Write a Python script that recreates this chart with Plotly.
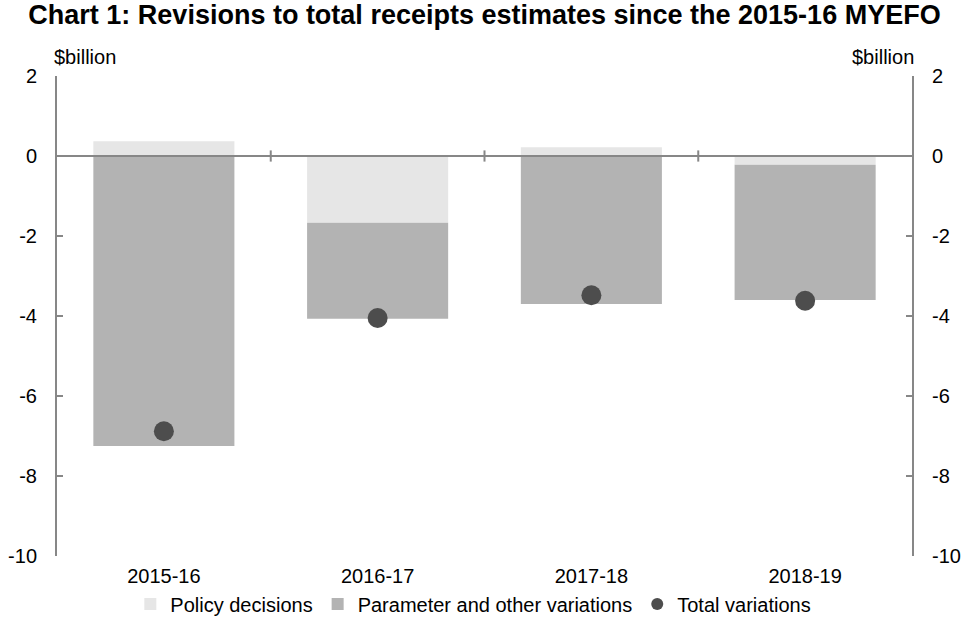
import plotly.graph_objects as go

categories = ["2015-16", "2016-17", "2017-18", "2018-19"]
policy = [0.37, -1.67, 0.22, -0.22]
parameter = [-7.25, -2.40, -3.70, -3.38]
total = [-6.88, -4.05, -3.48, -3.62]
y_ticks = [2, 0, -2, -4, -6, -8, -10]
y_tick_text = ["2", "0", "-2", "-4", "-6", "-8", "-10"]

FONT = "Liberation Sans, Arial, sans-serif"
AX = "#878787"
FS = 20

fig = go.Figure()
fig.add_trace(go.Bar(x=categories, y=policy, name="Policy decisions",
                     marker=dict(color="#e6e6e6", line=dict(width=0)), width=0.66))
fig.add_trace(go.Bar(x=categories, y=parameter, name="Parameter and other variations",
                     marker=dict(color="#b3b3b3", line=dict(width=0)), width=0.66))
fig.add_trace(go.Scatter(x=categories, y=total, name="Total variations", mode="markers",
                         marker=dict(color="#4d4d4d", size=20)))
# right axis twin (invisible trace)
fig.add_trace(go.Scatter(x=categories, y=total, yaxis="y2", mode="markers",
                         marker=dict(opacity=0), showlegend=False, hoverinfo="skip"))

axis_common = dict(range=[-10, 2], tickvals=y_ticks, ticktext=y_tick_text,
                   showgrid=False, zeroline=False,
                   showline=True, linecolor=AX, linewidth=2, ticks="inside", ticklen=6,
                   tickcolor=AX, tickwidth=2, ticklabelstandoff=14,
                   tickfont=dict(size=FS), automargin=False)

fig.update_layout(
    width=966, height=624,
    barmode="relative",
    plot_bgcolor="white", paper_bgcolor="white",
    margin=dict(l=57, r=54, t=76, b=68),
    font=dict(family=FONT, size=FS, color="black"),
    title=dict(text="<b>Chart 1: Revisions to total receipts estimates since the 2015-16 MYEFO</b>",
               x=0.5, xanchor="center", xref="paper", y=0.976, yanchor="middle",
               font=dict(size=27, family=FONT)),
    xaxis=dict(showline=False, ticks="", showgrid=False, zeroline=False,
               tickfont=dict(size=FS), ticklabelstandoff=6, automargin=False),
    yaxis=axis_common,
    yaxis2=dict(axis_common, overlaying="y", side="right"),
    legend=dict(orientation="h", xref="container", yref="container",
                x=0.49, xanchor="center", y=1 - 604 / 624, yanchor="middle",
                font=dict(size=FS), itemwidth=30, traceorder="normal",
                itemsizing="constant", bgcolor="rgba(0,0,0,0)"),
    showlegend=True,
)

# zero line across the plot and category boundary ticks
fig.add_shape(type="line", xref="paper", yref="y", x0=0, x1=1, y0=0, y1=0,
              line=dict(color=AX, width=2), layer="above")
for i in range(1, len(categories)):
    fig.add_shape(type="line", xref="x", yref="y", x0=i - 0.5, x1=i - 0.5, y0=-0.14, y1=0.14,
                  line=dict(color=AX, width=2), layer="above")

fig.add_annotation(text="$billion", xref="paper", yref="paper", x=0, y=1, xanchor="left",
                   yanchor="bottom", xshift=-5, yshift=6, showarrow=False, font=dict(size=FS))
fig.add_annotation(text="$billion", xref="paper", yref="paper", x=1, y=1, xanchor="right",
                   yanchor="bottom", xshift=4, yshift=6, showarrow=False, font=dict(size=FS))

fig.write_html("out.html")
